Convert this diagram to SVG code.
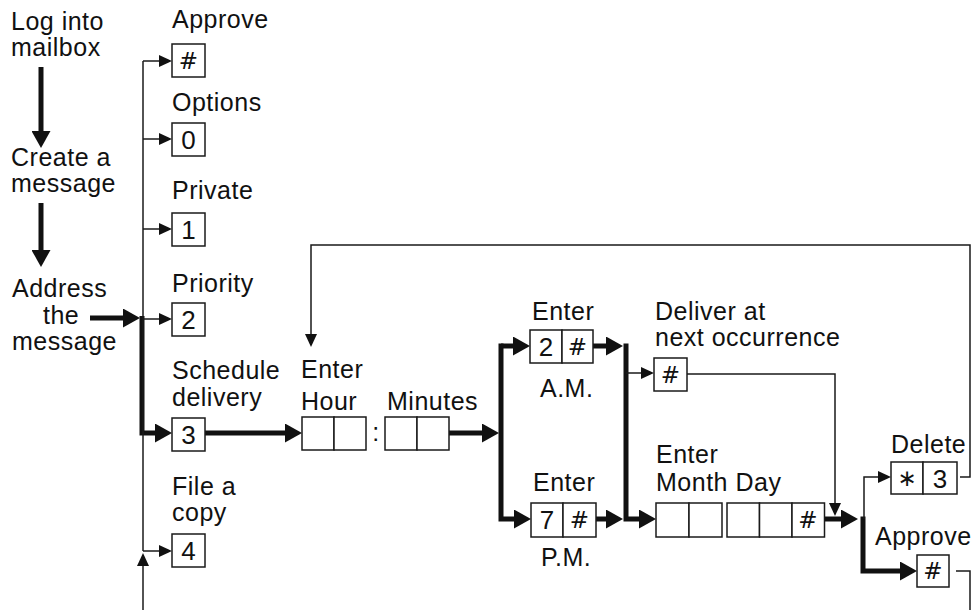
<svg xmlns="http://www.w3.org/2000/svg" width="972" height="610" viewBox="0 0 972 610">
<style>
  .lbl { font-family: "Liberation Sans", Arial, sans-serif; font-size: 25px; letter-spacing: 0.5px; fill: #111; }
  .key { font-family: "Liberation Sans", Arial, sans-serif; font-size: 26px; fill: #111; text-anchor: middle; }
  .hash { font-family: "DejaVu Sans", sans-serif; font-size: 23px; fill: #111; text-anchor: middle; }
  .box { fill: #fff; stroke: #1a1a1a; stroke-width: 1.5; }
  .thin { fill: none; stroke: #1a1a1a; stroke-width: 1.5; }
  .thick { fill: none; stroke: #111; stroke-width: 5; }
  .ta { marker-end: url(#ahThin); }
  .tk { marker-end: url(#ahThick); }
</style>
<defs>
  <marker id="ahThin" viewBox="0 0 13 12" markerWidth="13" markerHeight="12" refX="11" refY="6" orient="auto" markerUnits="userSpaceOnUse">
    <path d="M0,0 L13,6 L0,12 z" fill="#111"/>
  </marker>
  <marker id="ahThick" viewBox="0 0 17 19" markerWidth="17" markerHeight="19" refX="11" refY="9.5" orient="auto" markerUnits="userSpaceOnUse">
    <path d="M0,0 L17,9.5 L0,19 z" fill="#111"/>
  </marker>
</defs>
<rect width="972" height="610" fill="#fff"/>

<g id="connectors">
  <!-- thick flow -->
  <path class="thick tk" d="M41,67 V142"/>
  <path class="thick tk" d="M41,203 V261"/>
  <path class="thick tk" d="M90,318 H134"/>
  <path class="thick tk" d="M142,316 V433 H166"/>
  <path class="thick tk" d="M205,433 H296"/>
  <path class="thick tk" d="M449,433 H493"/>
  <path class="thick tk" d="M501,343.5 V519 H525"/>
  <path class="thick tk" d="M501,346 H524"/>
  <path class="thick tk" d="M593,346 H617"/>
  <path class="thick tk" d="M596,519 H617"/>
  <path class="thick tk" d="M626,343.5 V519 H650"/>
  <path class="thick tk" d="M824,519 H852"/>
  <path class="thick tk" d="M863,516.5 V571 H911"/>
  <!-- thin flow -->
  <path class="thin" d="M143,61 V551"/>
  <path class="thin ta" d="M143,61 H170"/>
  <path class="thin ta" d="M143,139 H170"/>
  <path class="thin ta" d="M143,229 H170"/>
  <path class="thin ta" d="M143,319 H170"/>
  <path class="thin ta" d="M143,551 H170"/>
  <path class="thin ta" d="M143,610 V555"/>
  <path class="thin ta" d="M626,373 H652"/>
  <path class="thin ta" d="M687,374 H835 V514"/>
  <path class="thin ta" d="M864,519 V477 H889"/>
  <path class="thin ta" d="M960,477 H970 V245 H311 V345"/>
  <path class="thin" d="M956,571 H970 V610"/>
</g>

<g id="n-login">
  <text class="lbl" x="11" y="30">Log into</text>
  <text class="lbl" x="11" y="56">mailbox</text>
</g>
<g id="n-create">
  <text class="lbl" x="11" y="166">Create a</text>
  <text class="lbl" x="11" y="192">message</text>
</g>
<g id="n-address">
  <text class="lbl" x="12" y="297">Address</text>
  <text class="lbl" x="43" y="324">the</text>
  <text class="lbl" x="12" y="350">message</text>
</g>

<g id="n-approve">
  <text class="lbl" x="172" y="28">Approve</text>
  <rect class="box" x="172" y="44" width="33" height="33"/>
  <text class="hash" x="188.5" y="69">#</text>
</g>
<g id="n-options">
  <text class="lbl" x="172" y="111">Options</text>
  <rect class="box" x="172" y="123" width="33" height="33"/>
  <text class="key" x="188.5" y="149">0</text>
</g>
<g id="n-private">
  <text class="lbl" x="172" y="199">Private</text>
  <rect class="box" x="172" y="213" width="33" height="33"/>
  <text class="key" x="188.5" y="239">1</text>
</g>
<g id="n-priority">
  <text class="lbl" x="172" y="292">Priority</text>
  <rect class="box" x="172" y="303" width="33" height="33"/>
  <text class="key" x="188.5" y="329">2</text>
</g>
<g id="n-schedule">
  <text class="lbl" x="172" y="379">Schedule</text>
  <text class="lbl" x="172" y="406">delivery</text>
  <rect class="box" x="172" y="418" width="33" height="33"/>
  <text class="key" x="188.5" y="444">3</text>
</g>
<g id="n-file">
  <text class="lbl" x="172" y="495">File a</text>
  <text class="lbl" x="172" y="521">copy</text>
  <rect class="box" x="172" y="534" width="33" height="33"/>
  <text class="key" x="188.5" y="560">4</text>
</g>

<g id="n-hour">
  <text class="lbl" x="301" y="378">Enter</text>
  <text class="lbl" x="301" y="410">Hour</text>
  <rect class="box" x="302" y="417" width="32" height="33"/>
  <rect class="box" x="334" y="417" width="32" height="33"/>
</g>
<g id="n-minutes">
  <text class="lbl" x="376" y="441" text-anchor="middle" letter-spacing="0">:</text>
  <text class="lbl" x="387" y="410">Minutes</text>
  <rect class="box" x="385" y="417" width="32" height="33"/>
  <rect class="box" x="417" y="417" width="32" height="33"/>
</g>

<g id="n-am">
  <text class="lbl" x="532" y="320">Enter</text>
  <rect class="box" x="530" y="330" width="32" height="33"/>
  <rect class="box" x="562" y="330" width="31" height="33"/>
  <text class="key" x="546" y="356">2</text>
  <text class="hash" x="577.5" y="355">#</text>
  <text class="lbl" x="540" y="397">A.M.</text>
</g>
<g id="n-pm">
  <text class="lbl" x="533" y="491">Enter</text>
  <rect class="box" x="531" y="503" width="32" height="34"/>
  <rect class="box" x="563" y="503" width="33" height="34"/>
  <text class="key" x="547" y="529">7</text>
  <text class="hash" x="579.5" y="528">#</text>
  <text class="lbl" x="541" y="566">P.M.</text>
</g>

<g id="n-deliver">
  <text class="lbl" x="655" y="320">Deliver at</text>
  <text class="lbl" x="655" y="346">next occurrence</text>
  <rect class="box" x="654" y="358" width="33" height="33"/>
  <text class="hash" x="670.5" y="383">#</text>
</g>

<g id="n-monthday">
  <text class="lbl" x="656" y="463">Enter</text>
  <text class="lbl" x="656" y="491">Month Day</text>
  <rect class="box" x="656" y="503" width="33" height="34"/>
  <rect class="box" x="689" y="503" width="33" height="34"/>
  <rect class="box" x="727" y="503" width="32.5" height="34"/>
  <rect class="box" x="759.5" y="503" width="32.5" height="34"/>
  <rect class="box" x="792" y="503" width="32.5" height="34"/>
  <text class="hash" x="808" y="528">#</text>
</g>

<g id="n-delete">
  <text class="lbl" x="891" y="453">Delete</text>
  <rect class="box" x="891" y="462" width="32" height="32"/>
  <rect class="box" x="923" y="462" width="34" height="32"/>
  <text class="hash" x="907" y="486">∗</text>
  <text class="key" x="940" y="488">3</text>
</g>
<g id="n-approve2">
  <text class="lbl" x="875" y="545">Approve</text>
  <rect class="box" x="917" y="555" width="32" height="32"/>
  <text class="hash" x="933" y="579">#</text>
</g>
</svg>
